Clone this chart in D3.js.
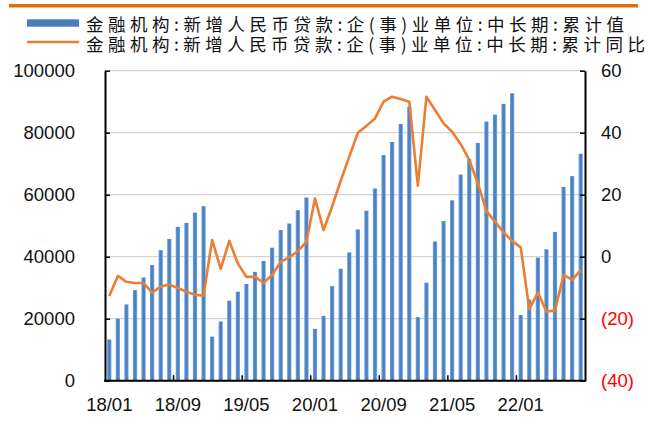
<!DOCTYPE html>
<html>
<head>
<meta charset="utf-8">
<script src="https://cdn.jsdelivr.net/npm/d3@7"></script>
<style>
  html, body { margin: 0; padding: 0; background: #fff; }
  svg { display: block; }
</style>
</head>
<body>
<svg id="chart" width="654" height="425"></svg>
<script>
const categories = [
  "18/01","18/02","18/03","18/04","18/05","18/06","18/07","18/08","18/09","18/10","18/11","18/12",
  "19/01","19/02","19/03","19/04","19/05","19/06","19/07","19/08","19/09","19/10","19/11","19/12",
  "20/01","20/02","20/03","20/04","20/05","20/06","20/07","20/08","20/09","20/10","20/11","20/12",
  "21/01","21/02","21/03","21/04","21/05","21/06","21/07","21/08","21/09","21/10","21/11","21/12",
  "22/01","22/02","22/03","22/04","22/05","22/06","22/07","22/08"
];
const cumulativeValues = [
  13300,20000,24600,29200,33300,37300,42100,45700,49600,50900,54200,56300,
  14200,19100,25800,28700,31200,35100,38600,42900,48600,50700,55000,59100,
  16700,20900,30500,36100,41400,48800,54800,62000,72800,77000,82800,88400,
  20500,31600,44900,51500,58200,66500,71500,76700,83600,85800,89300,92700,
  21200,26200,39700,42400,48000,62500,66000,73200
];
const yoyValues = [
  -12.7,-6.2,-8.1,-8.5,-8.5,-11.6,-9.6,-9.0,-10.1,-11.3,-12.3,-12.5,
  5.4,-3.9,5.1,-2.2,-6.5,-6.5,-8.4,-5.9,-1.7,-0.2,1.8,4.8,
  18.8,8.6,16.2,24.5,32.3,40.0,42.2,44.6,50.0,51.6,50.9,50.0,
  22.9,51.6,47.3,43.0,40.3,36.3,31.2,23.7,14.7,11.3,7.8,5.1,
  3.0,-16.9,-11.6,-17.7,-17.4,-5.9,-7.5,-4.3
];
const xTickLabels = ["18/01","18/09","19/05","20/01","20/09","21/05","22/01"];
const leftTicks = [0,20000,40000,60000,80000,100000];
const rightTicks = [-40,-20,0,20,40,60];
const seriesNames = [
  "金融机构:新增人民币贷款:企(事)业单位:中长期:累计值",
  "金融机构:新增人民币贷款:企(事)业单位:中长期:累计同比"
];

const svg = d3.select("#chart");
const L = 105, R = 585, T = 70.7, B = 380.7;
const numFont = "'Liberation Sans', Arial, sans-serif";
const orange = "#ED7D31";

// top decorative rule
svg.append("rect").attr("x", 9).attr("y", 4).attr("width", 629).attr("height", 3.5).attr("fill", "#E36C09");

const x = d3.scaleBand().domain(categories).range([L, R]).paddingInner(0.5).paddingOuter(0.25);
const xBound = d3.scaleBand().domain(categories).range([L, R]).padding(0);
const y = d3.scaleLinear().domain([0, 100000]).range([B, T]);
const yR = d3.scaleLinear().domain([-40, 60]).range([B, T]);

// gradient for bars
const defs = svg.append("defs");
const grad = defs.append("linearGradient").attr("id", "barGrad").attr("x1", "0").attr("x2", "1").attr("y1", "0").attr("y2", "0");
grad.append("stop").attr("offset", "0%").attr("stop-color", "#7BA6DA");
grad.append("stop").attr("offset", "35%").attr("stop-color", "#4A82C4");
grad.append("stop").attr("offset", "70%").attr("stop-color", "#4A82C4");
grad.append("stop").attr("offset", "100%").attr("stop-color", "#86AEDE");

// gridlines
svg.append("g").selectAll("line").data(leftTicks).join("line")
  .attr("x1", L).attr("x2", R)
  .attr("y1", d => y(d)).attr("y2", d => y(d))
  .attr("stroke", "#C8C8C8").attr("stroke-width", 1);

// bars
svg.append("g").selectAll("rect").data(categories).join("rect")
  .attr("x", d => x(d))
  .attr("width", x.bandwidth())
  .attr("y", (d, i) => y(cumulativeValues[i]))
  .attr("height", (d, i) => y(0) - y(cumulativeValues[i]))
  .attr("fill", "url(#barGrad)");

// line
const line = d3.line()
  .x((d, i) => x(categories[i]) + x.bandwidth() / 2)
  .y(d => yR(d));
svg.append("path").datum(yoyValues)
  .attr("d", line)
  .attr("fill", "none")
  .attr("stroke", orange)
  .attr("stroke-width", 2.6)
  .attr("stroke-linejoin", "round");

// left axis
const gL = svg.append("g").attr("transform", `translate(${L},0)`)
  .call(d3.axisLeft(y).tickValues(leftTicks).tickSizeInner(-5).tickSizeOuter(0).tickPadding(30).tickFormat(d3.format("d")));
gL.select(".domain").attr("stroke", "#000").attr("stroke-width", 2);
gL.selectAll(".tick line").attr("stroke", "#000").attr("stroke-width", 1.5);
gL.selectAll("text").attr("font-family", numFont).attr("font-size", 18.5).attr("fill", "#111");

// right axis
const gR = svg.append("g").attr("transform", `translate(${R},0)`)
  .call(d3.axisRight(yR).tickValues(rightTicks).tickSizeInner(-5).tickSizeOuter(0).tickPadding(16)
    .tickFormat(d => d < 0 ? `(${-d})` : `${d}`));
gR.select(".domain").attr("stroke", "#000").attr("stroke-width", 2);
gR.selectAll(".tick line").attr("stroke", "#000").attr("stroke-width", 1.5);
gR.selectAll("text").attr("font-family", numFont).attr("font-size", 18.5)
  .attr("fill", d => d < 0 ? "#FF0000" : "#111");

// bottom axis labels
const gB = svg.append("g").attr("transform", `translate(0,${B})`)
  .call(d3.axisBottom(x).tickValues(xTickLabels).tickSize(0).tickPadding(17));
gB.select(".domain").remove();
gB.selectAll("text").attr("font-family", numFont).attr("font-size", 18.5).attr("fill", "#111");

// bottom tick marks at category boundaries (every 8 months)
const boundaryCats = xTickLabels.slice(1);
svg.append("g").selectAll("line").data(boundaryCats).join("line")
  .attr("x1", d => xBound(d)).attr("x2", d => xBound(d))
  .attr("y1", B).attr("y2", B - 5.5)
  .attr("stroke", "#000").attr("stroke-width", 1.5);
svg.append("line").attr("x1", L - 1).attr("x2", R + 1).attr("y1", B).attr("y2", B)
  .attr("stroke", "#000").attr("stroke-width", 2);

// legend
const lg = svg.append("g");
lg.append("rect").attr("x", 27).attr("y", 19.3).attr("width", 52).attr("height", 7.4).attr("fill", "#4A7EBB");
lg.append("line").attr("x1", 27).attr("x2", 79).attr("y1", 42).attr("y2", 42)
  .attr("stroke", orange).attr("stroke-width", 2.6);
lg.append("text").attr("x", 86).attr("y", 30.5).text(seriesNames[0])
  .attr("font-family", "'Noto Sans CJK SC', sans-serif").attr("font-size", 17.5).attr("fill", "#111")
  .attr("textLength", 538).attr("lengthAdjust", "spacing");
lg.append("text").attr("x", 86).attr("y", 51).text(seriesNames[1])
  .attr("font-family", "'Noto Sans CJK SC', sans-serif").attr("font-size", 17.5).attr("fill", "#111")
  .attr("textLength", 559).attr("lengthAdjust", "spacing");
</script>
</body>
</html>
